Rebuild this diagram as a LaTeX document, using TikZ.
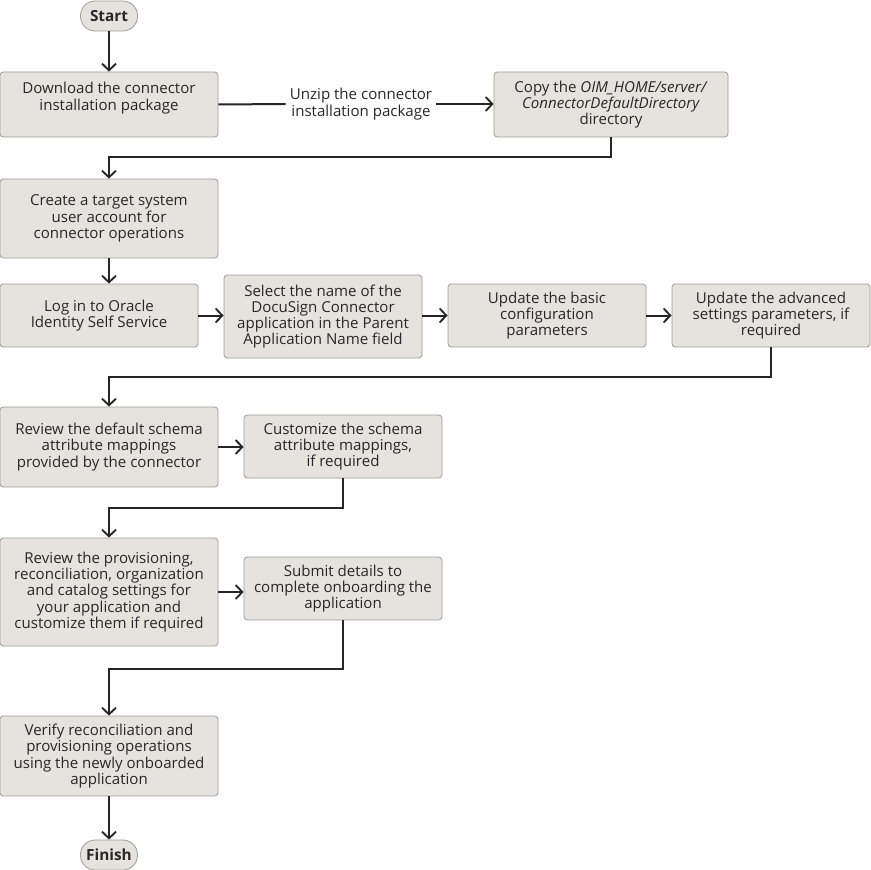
\documentclass[tikz,border=0pt]{standalone}
\usepackage{fontspec}
\setmainfont{Open Sans}
\usepackage{xcolor}
\usepackage{tikz}
\usetikzlibrary{arrows.meta,positioning}

\definecolor{boxfill}{RGB}{230,227,223}
\definecolor{boxline}{RGB}{160,156,150}
\definecolor{flowline}{RGB}{38,38,38}
\definecolor{boxtext}{RGB}{40,40,40}

\tikzset{
  stepbox/.style 2 args={draw=boxline,fill=boxfill,line width=0.6pt,rounded corners=2.5pt,
    minimum width=#1*0.75pt,minimum height=#2*0.75pt,inner sep=0pt,align=center,
    text=boxtext,font=\fontsize{11.3}{12.2}\selectfont},
  endpill/.style={draw=boxline,fill=boxfill,line width=0.6pt,rounded corners=11pt,
    minimum width=42.75pt,minimum height=22.5pt,inner sep=0pt,
    text=boxtext,font=\fontsize{11.5}{12}\selectfont\bfseries},
  flow/.style={draw=flowline,line width=1.5pt,-{Straight Barb[length=5pt,width=10.5pt,line width=1.4pt]}},
  plain/.style={draw=flowline,line width=1.5pt}
}

\begin{document}
\begin{tikzpicture}[x=0.75pt,y=-0.75pt]
  \useasboundingbox (0,0) rectangle (871,870);
  % column of steps on the left, side steps to the right
  \node[endpill] (start) at (109,16) {Start};
  \node[stepbox={218}{65}] (download) at (109,104.5) {Download the connector\\installation package\\\mbox{}};
  \node[text=boxtext,font=\fontsize{11.3}{12.2}\selectfont,align=center,inner sep=3pt] (unzip) at (361,104) {Unzip the connector\\installation package};
  \node[stepbox={234}{65}] (copy) at (611,104.5) {Copy the \textit{OIM\_HOME/server/}\\\textit{ConnectorDefaultDirectory}\\directory};
  \node[stepbox={218}{79}] (create) at (109,218.5) {Create a target system\\user account for\\connector operations};
  % row of configuration steps
  \node[stepbox={198}{63}] (login) at (99,315.5) {Log in to Oracle\\Identity Self Service};
  \node[stepbox={198}{83}] (select) at (323,316.5) {Select the name of the\\DocuSign Connector\\application in the Parent\\Application Name field};
  \node[stepbox={198}{63}] (basic) at (547,315.5) {Update the basic\\configuration\\parameters};
  \node[stepbox={198}{63}] (advanced) at (771,315.5) {Update the advanced\\settings parameters, if\\required};
  \node[stepbox={218}{80}] (review) at (109,447) {Review the default schema\\attribute mappings\\provided by the connector};
  \node[stepbox={198}{63}] (custom) at (343,446.5) {Customize the schema\\attribute mappings,\\if required};
  \node[stepbox={218}{108}] (settings) at (109,592) {Review the provisioning,\\reconciliation, organization\\and catalog settings for\\your application and\\customize them if required};
  \node[stepbox={198}{63}] (submit) at (343,588.5) {Submit details to\\complete onboarding the\\application};
  \node[stepbox={218}{80}] (verify) at (109,756) {Verify reconciliation and\\provisioning operations\\using the newly onboarded\\application};
  \node[endpill] (finish) at (109,855) {Finish};

  \draw[flow] (start) -- (download);
  \draw[plain] (download.east) -- (unzip.west);
  \draw[flow] (unzip.east) -- (unzip.east -| copy.west);
  \draw[flow] (copy.south) -- ++(0,20) -| (create.north);
  \draw[flow] (create.south) -- (create.south |- login.north);
  \draw[flow] (login.east) -- (login.east -| select.west);
  \draw[flow] (basic.west -| select.east) -- (basic.west);
  \draw[flow] (basic.east) -- (advanced.west);
  \draw[flow] (advanced.south) -- ++(0,30) -| (review.north);
  \draw[flow] (review.east) -- (review.east -| custom.west);
  \draw[flow] (custom.south) -- ++(0,30) -| (settings.north);
  \draw[flow] (settings.east) -- (settings.east -| submit.west);
  \draw[flow] (submit.south) -- ++(0,49) -| (verify.north);
  \draw[flow] (verify) -- (finish);
\end{tikzpicture}
\end{document}
